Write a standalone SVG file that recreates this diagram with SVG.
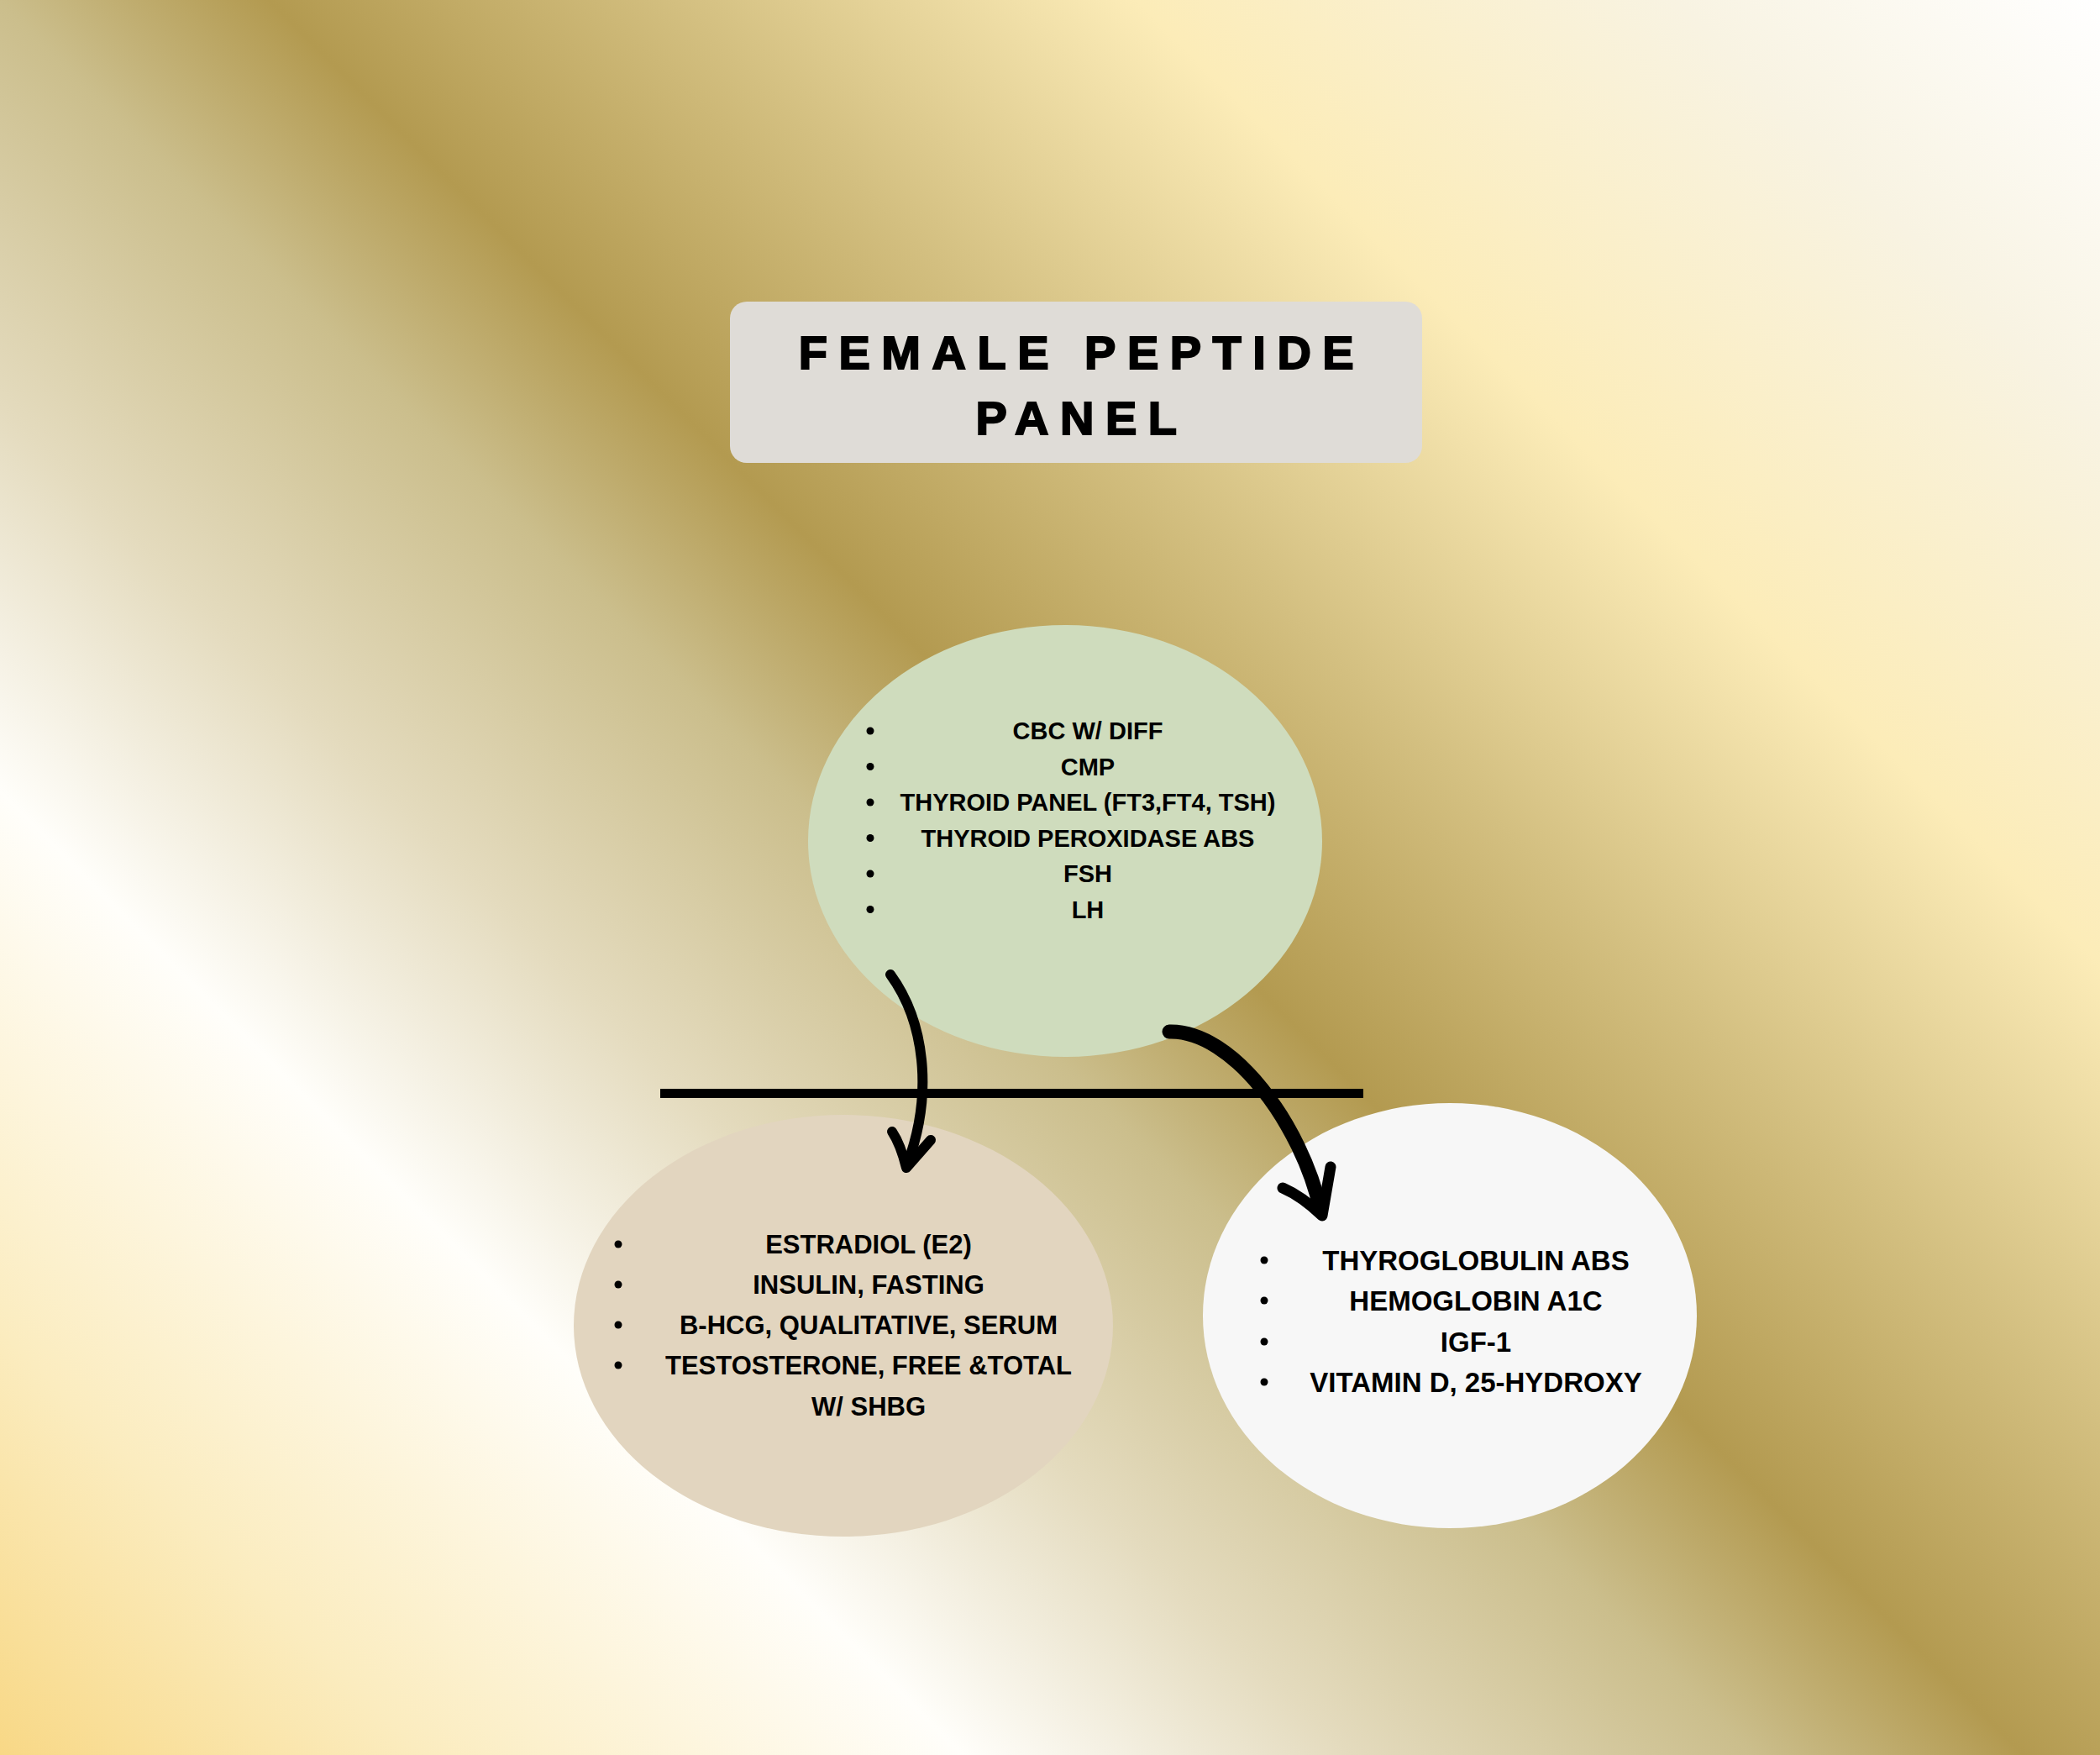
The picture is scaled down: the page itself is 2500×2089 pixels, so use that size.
<svg xmlns="http://www.w3.org/2000/svg" width="2500" height="2089" viewBox="0 0 2500 2089">
<defs>
<linearGradient id="bg" gradientUnits="userSpaceOnUse" x1="0" y1="2089" x2="2294.5" y2="-205.5">
<stop offset="0" stop-color="#f8d886"/>
<stop offset="0.11" stop-color="#fbecbf"/>
<stop offset="0.25" stop-color="#fffefa"/>
<stop offset="0.35" stop-color="#e4dbbe"/>
<stop offset="0.455" stop-color="#cbbe8c"/>
<stop offset="0.525" stop-color="#b39a50"/>
<stop offset="0.63" stop-color="#d3bf80"/>
<stop offset="0.75" stop-color="#fcecb8"/>
<stop offset="0.89" stop-color="#f8f3e2"/>
<stop offset="1" stop-color="#ffffff"/>
</linearGradient>
<style>
.title{font-family:"Liberation Sans",Arial,sans-serif;font-weight:900;font-size:56px;letter-spacing:13.5px;fill:#000;stroke:#000;stroke-width:2;text-anchor:middle}
.item{font-family:"Liberation Sans",Arial,sans-serif;font-weight:700;fill:#000;text-anchor:middle}
.g{font-size:29px}
.b{font-size:31px}
.r{font-size:33px}
.dot{fill:#000}
.arrow{fill:none;stroke:#000;stroke-linecap:round;stroke-linejoin:round}
</style>
</defs>
<rect x="0" y="0" width="2500" height="2089" fill="url(#bg)"/>

<g id="title">
<rect x="869" y="359" width="824" height="192" rx="20" fill="#dfdcd7"/>
<text class="title" x="1288" y="439">FEMALE PEPTIDE</text>
<text class="title" x="1288" y="517">PANEL</text>
</g>

<g id="node-general">
<ellipse cx="1268" cy="1001" rx="306" ry="257" fill="#cfdcbd"/>
<g class="dot">
<circle cx="1036" cy="870" r="4.5"/>
<circle cx="1036" cy="912.5" r="4.5"/>
<circle cx="1036" cy="955" r="4.5"/>
<circle cx="1036" cy="997.5" r="4.5"/>
<circle cx="1036" cy="1040" r="4.5"/>
<circle cx="1036" cy="1082.5" r="4.5"/>
</g>
<text class="item g" x="1295" y="880">CBC W/ DIFF</text>
<text class="item g" x="1295" y="923">CMP</text>
<text class="item g" x="1295" y="965">THYROID PANEL (FT3,FT4, TSH)</text>
<text class="item g" x="1295" y="1008">THYROID PEROXIDASE ABS</text>
<text class="item g" x="1295" y="1050">FSH</text>
<text class="item g" x="1295" y="1093">LH</text>
</g>

<g id="node-hormones">
<ellipse cx="1004" cy="1578" rx="321" ry="251" fill="#e2d5bf"/>
<g class="dot">
<circle cx="736" cy="1481" r="4.5"/>
<circle cx="736" cy="1529" r="4.5"/>
<circle cx="736" cy="1577" r="4.5"/>
<circle cx="736" cy="1625" r="4.5"/>
</g>
<text class="item b" x="1034" y="1492">ESTRADIOL (E2)</text>
<text class="item b" x="1034" y="1540">INSULIN, FASTING</text>
<text class="item b" x="1034" y="1588">B-HCG, QUALITATIVE, SERUM</text>
<text class="item b" x="1034" y="1636">TESTOSTERONE, FREE &amp;TOTAL</text>
<text class="item b" x="1034" y="1685">W/ SHBG</text>
</g>

<g id="node-metabolic">
<ellipse cx="1726" cy="1566" rx="294" ry="253" fill="#f7f7f7"/>
<g class="dot">
<circle cx="1505" cy="1500" r="4.5"/>
<circle cx="1505" cy="1548" r="4.5"/>
<circle cx="1505" cy="1597" r="4.5"/>
<circle cx="1505" cy="1645" r="4.5"/>
</g>
<text class="item r" x="1757" y="1512">THYROGLOBULIN ABS</text>
<text class="item r" x="1757" y="1560">HEMOGLOBIN A1C</text>
<text class="item r" x="1757" y="1609">IGF-1</text>
<text class="item r" x="1757" y="1657">VITAMIN D, 25-HYDROXY</text>
</g>

<g id="connectors">
<rect x="786" y="1296" width="837" height="11" fill="#000"/>
<path class="arrow" d="M1060 1160 C1100 1215 1112 1300 1080 1386" stroke-width="12"/>
<path class="arrow" d="M1062 1347 Q1072 1362 1079 1390 L1108 1357" stroke-width="12"/>
<path class="arrow" d="M1392 1228 C1468 1226 1550 1340 1572 1440" stroke-width="17"/>
<path class="arrow" d="M1527 1414 Q1550 1424 1574 1447 L1584 1389" stroke-width="13"/>
</g>
</svg>
